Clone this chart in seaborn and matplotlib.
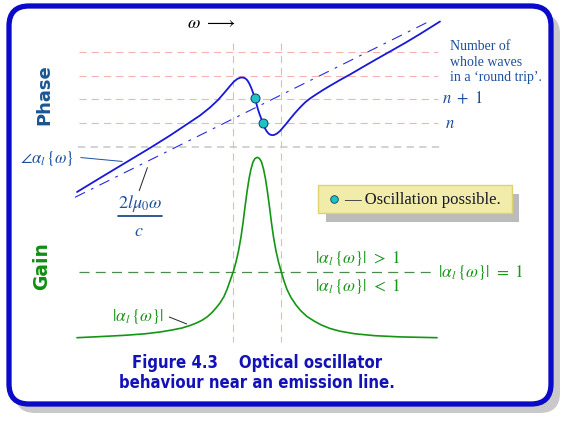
import matplotlib
matplotlib.use('Agg')
import matplotlib.pyplot as plt
import seaborn as sns
import pandas as pd
from matplotlib.patches import FancyBboxPatch, Rectangle

# values (canvas pixels, y downwards)
phase_x = [77, 100, 125, 150, 170, 185, 200, 210, 218, 225, 230, 234, 237.5, 240.5, 243, 245.5,
           247.5, 249.5, 251.5, 253.5, 255, 256.5, 258, 259.5, 261, 262.7, 264.5, 266.5, 268.5,
           270.5, 272.5, 274.5, 277, 280, 283, 286, 290, 295, 300, 305, 310, 316, 323, 330, 340,
           350, 362, 375, 390, 405, 420, 440]
phase_y = [192, 178, 163, 148, 135.5, 125.5, 115.5, 107.5, 100, 92, 86, 81.5, 78.8, 77.6, 77.5, 78.5,
           80.5, 84, 88.5, 94, 98.5, 104, 109.5, 114, 118, 123, 127.5, 131, 133.5,
           134.8, 135.2, 134.8, 133.5, 131, 127.5, 124, 119, 113, 107.5, 102.5, 98.5, 94.5, 90, 85.8, 80,
           74.5, 67.5, 60, 51.5, 43, 34, 21.5]
round_trip_x = [75, 432]
round_trip_y = [197.3, 20]
osc_x = [255, 262.7]
osc_y = [98.5, 123]

gain_x = [77, 100, 125, 145, 160, 172, 182, 190, 196, 202, 207, 212, 216, 220, 224, 227, 230,
          233.3, 236, 238.5, 241, 243, 245, 247, 249, 251, 253, 255, 257.3, 259.5, 261.5, 263.5,
          265.5, 267.5, 269.5, 271.5, 273.5, 276, 278.5, 281.2, 284, 287, 291, 296, 301, 307,
          314, 321, 330, 340, 355, 375, 400, 437]
gain_y = [337.7, 336.6, 335.3, 333.8, 332, 330, 328, 325.5, 323.2, 320.3, 317, 312.5, 308, 303,
          296.5, 289.5, 281, 271.7, 262, 251, 237, 223, 207, 192, 179, 169, 162, 158.5, 157.3,
          158.5, 162, 169, 179, 192, 207, 223, 237, 251, 262, 271.7, 281, 289.5, 297.5, 305,
          311, 316.5, 321, 324.8, 328.5, 331.2, 333.8, 335.7, 336.9, 337.7]

phase_levels = [51.7, 75.7, 99.3, 123.3]
gain_level = 271.7
line_freqs = [233.3, 280.5]

sns.set_theme(style='white')
plt.rcParams['font.family'] = ['DejaVu Sans']
plt.rcParams['mathtext.fontset'] = 'stix'

fig = plt.figure(figsize=(5.65, 4.23), dpi=100)
ax = fig.add_axes([0, 0, 1, 1])
ax.set_xlim(0, 565)
ax.set_ylim(423, 0)
ax.axis('off')

# frame with drop shadow
ax.add_patch(FancyBboxPatch((15, 14), 545, 399, boxstyle='round,pad=0,rounding_size=20',
                            fc='#c9c9c9', ec='none', zorder=0))
ax.add_patch(FancyBboxPatch((9, 6), 542, 398, boxstyle='round,pad=0,rounding_size=20',
                            fc='white', ec='#0a0ac8', lw=3.8, zorder=1))

# grid of whole-wave levels and line positions
for lev in phase_levels:
    ax.plot([79, 438], [lev, lev], color='#f5b3b3', lw=0.8, dashes=(6.5, 4.5), zorder=2)
ax.plot([78, 440], [146.7, 146.7], color='#cfcfcf', lw=1.3, dashes=(4, 3), zorder=2)
for xf in line_freqs:
    ax.plot([xf, xf], [43, 342], color='#f5b3b3', lw=0.8, dashes=(6.5, 4.5), zorder=2)
ax.plot([79, 432], [gain_level, gain_level], color='#4d8a4d', lw=0.9, dashes=(8, 5), zorder=2)

# curves
sns.lineplot(x=round_trip_x, y=round_trip_y, ax=ax, color='#2a2ae0', lw=0.8,
             linestyle=(0, (10, 6, 2.5, 6)), zorder=3)
sns.lineplot(x=phase_x, y=phase_y, ax=ax, color='#1818d8', lw=1.3, sort=False,
             estimator=None, solid_joinstyle='round', zorder=4)
sns.lineplot(x=gain_x, y=gain_y, ax=ax, color='#149614', lw=1.2, sort=False,
             estimator=None, solid_joinstyle='round', zorder=4)
sns.scatterplot(x=osc_x, y=osc_y, ax=ax, color='#1ec4c4', edgecolor='#0c3c6c', s=42,
                linewidth=0.7, zorder=5)

blue = '#1c4f9c'
green = '#1a961a'

ax.text(44, 95, 'Phase', rotation=90, ha='center', va='center', fontsize=13,
        weight='bold', color='#1b5592')
ax.text(42, 266, 'Gain', rotation=90, ha='center', va='center', fontsize=13.5,
        weight='bold', color='#0f8f0f')

ax.text(211, 22.7, r'$\omega\ \longrightarrow$', ha='center', va='center', fontsize=13,
        color='black')

for i, s in enumerate(['Number of', 'whole waves', 'in a \u2018round trip\u2019.']):
    ax.text(450, 47 + 15 * i, s, ha='left', va='center', fontsize=10,
            family='Liberation Serif', color=blue)
ax.text(442, 98, r'$n\ +\ 1$', ha='left', va='center', fontsize=12, color=blue)
ax.text(445, 123, r'$n$', ha='left', va='center', fontsize=12, color=blue)

ax.text(20, 158, r'$\angle\alpha_l\,\{\omega\}$', ha='left', va='center', fontsize=12, color=blue)
ax.annotate('', xy=(125, 161.7), xytext=(78, 157.3),
            arrowprops=dict(arrowstyle='-', color='#1c4f9c', lw=0.7))
ax.text(140, 203, r'$2l\mu_0\omega$', ha='center', va='center', fontsize=13, color=blue)
ax.plot([118, 162], [216, 216], color='#0c3c80', lw=1.2)
ax.text(139, 230.5, r'$c$', ha='center', va='center', fontsize=13, color=blue)
ax.annotate('', xy=(148.3, 165), xytext=(138.3, 193.3),
            arrowprops=dict(arrowstyle='-', color='#222222', lw=0.7))

# legend box
ax.add_patch(Rectangle((326, 194), 193.4, 27.7, fc='#bbbbbb', ec='none', zorder=5))
ax.add_patch(Rectangle((318.3, 185), 193.4, 27.7, fc='#f1eca9', ec='#e0d270', lw=1, zorder=6))
ax.scatter([333.5], [199.5], s=30, color='#1ec4c4', edgecolor='#0c3c6c', lw=0.6, zorder=7)
ax.text(344, 199.5, '\u2014 Oscillation possible.', ha='left', va='center', fontsize=12,
        family='Liberation Serif', color='#1a1a2a', zorder=7)

# gain labels
ax.text(315, 258, r'$|\alpha_l\,\{\omega\}|\ >\ 1$', ha='left', va='center', fontsize=12.5, color=green)
ax.text(315, 286.5, r'$|\alpha_l\,\{\omega\}|\ <\ 1$', ha='left', va='center', fontsize=12.5, color=green)
ax.text(438, 272, r'$|\alpha_l\,\{\omega\}|\ =\ 1$', ha='left', va='center', fontsize=12.5, color=green)
ax.text(112, 316, r'$|\alpha_l\,\{\omega\}|$', ha='left', va='center', fontsize=12.5, color=green)
ax.annotate('', xy=(189.3, 325), xytext=(166.7, 316),
            arrowprops=dict(arrowstyle='-', color='#222222', lw=0.7))

# caption
ax.text(257.5, 362.7, 'Figure 4.3    Optical oscillator', ha='center', va='center',
        fontsize=12, weight='bold', fontstretch='condensed', color='#1212b8')
ax.text(256.7, 383.3, 'behaviour near an emission line.', ha='center', va='center',
        fontsize=12, weight='bold', fontstretch='condensed', color='#1212b8')

fig.savefig('out.png', dpi=100)
